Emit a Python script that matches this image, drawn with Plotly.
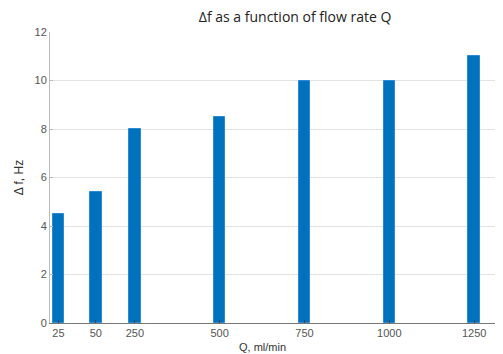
import plotly.graph_objects as go

# Data
q_labels = ["25", "50", "250", "500", "750", "1000", "1250"]
q_positions = [25, 135, 250, 500, 750, 1000, 1250]
delta_f = [4.5, 5.4, 8, 8.5, 10, 10, 11]
y_ticks = [0, 2, 4, 6, 8, 10, 12]

fig = go.Figure()
fig.add_trace(go.Bar(
    x=q_positions, y=delta_f, width=34,
    marker=dict(color="#0072BD", line=dict(color="#2a8ad4", width=1)),
))

font_ticks = dict(family="Liberation Sans, Arial, sans-serif", size=11, color="#555")
fig.update_layout(
    width=495, height=346,
    margin=dict(l=42, r=0, t=24, b=31, autoexpand=False),
    paper_bgcolor="white", plot_bgcolor="white",
    showlegend=False,
    title=dict(text="Δf as a function of flow rate Q", x=0.541, xref="paper", xanchor="center",
               y=0.974, yref="container", yanchor="middle",
               font=dict(family="Open Sans, sans-serif", size=14, color="#222")),
    bargap=0,
)
fig.update_xaxes(
    range=[0, 1335], tickmode="array", tickvals=q_positions, ticktext=q_labels,
    tickfont=font_ticks, showgrid=False, zeroline=False,
    showline=True, linecolor="#777", linewidth=1,
    ticks="inside", ticklen=3, tickcolor="#444",
    title=None, automargin=False,
)
fig.update_yaxes(
    range=[0, 12], tickvals=y_ticks, tickfont=font_ticks,
    showgrid=True, gridcolor="#e3e3e3", gridwidth=1, zeroline=False,
    showline=True, linecolor="#bbb", linewidth=1,
    ticks="inside", ticklen=3, tickcolor="#bbb", automargin=False,
    title=dict(text="Δ f, Hz", font=dict(family="Liberation Sans, Arial, sans-serif", size=12, color="#333"), standoff=8),
)
fig.add_annotation(text="Q, ml/min", xref="paper", yref="paper", x=0.468, y=-0.082,
                   xanchor="center", yanchor="middle", showarrow=False,
                   font=dict(family="Liberation Sans, Arial, sans-serif", size=11, color="#333"))

fig.write_html("out.html")
